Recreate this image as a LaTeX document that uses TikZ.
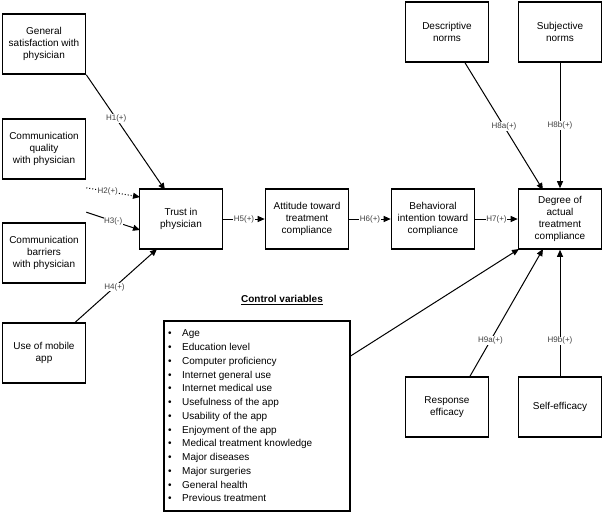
\documentclass[tikz,border=0pt]{standalone}
\usepackage{fontspec}
\setmainfont{Liberation Sans}
\usetikzlibrary{arrows.meta,positioning}
\tikzset{
  cbox/.style={draw,line width=1.6pt,minimum width=83pt,minimum height=60pt,align=center,font=\fontsize{10}{12}\selectfont,inner sep=1pt},
  hyp/.style={font=\fontsize{8}{9}\selectfont,text=black!75,fill=white,inner sep=0.5pt},
  link/.style={line width=1pt,-{Triangle[length=7pt,width=6pt]}}
}
\begin{document}
\begin{tikzpicture}[x=1pt,y=-1pt]
    \useasboundingbox (0,0) rectangle (604,512);
    \node[cbox] (satisf) at (44,44) {General\\satisfaction with\\physician};
    \node[cbox] (quality) at (44,149) {Communication\\quality\\with physician};
    \node[cbox] (barrier) at (44,253) {Communication\\barriers\\with physician};
    \node[cbox] (mobile) at (44,353) {Use of mobile\\app};

    \node[cbox] (trust) at (181,219) {Trust in\\physician};
    \node[cbox] (attitude) at (307,219) {Attitude toward\\treatment\\compliance};
    \node[cbox] (intent) at (433,219) {Behavioral\\intention toward\\compliance};
    \node[cbox] (degree) at (560,219) {Degree of\\actual\\treatment\\compliance};

    \node[cbox] (descnorm) at (447,32) {Descriptive\\norms};
    \node[cbox] (subjnorm) at (560,32) {Subjective\\norms};
    \node[cbox] (response) at (447,407) {Response\\efficacy};
    \node[cbox] (selfeff) at (560,407) {Self-efficacy};

    % control variables
    \node[font=\fontsize{10}{12}\selectfont\bfseries] (ctrltitle) at (282,300) {\underline{Control variables}};
    \node[draw,line width=1.6pt,minimum width=186pt,minimum height=190pt,anchor=north west,inner sep=0pt] (control) at (163,320) {};
    \node[anchor=north west,align=left,font=\fontsize{10}{13.75}\selectfont,inner sep=0pt] (ctrllist) at (168,327) {%
      \begin{tabular}{@{}p{14pt}@{}l@{}}
      \textbullet & Age\\ \textbullet & Education level\\ \textbullet & Computer proficiency\\
      \textbullet & Internet general use\\ \textbullet & Internet medical use\\
      \textbullet & Usefulness of the app\\ \textbullet & Usability of the app\\
      \textbullet & Enjoyment of the app\\ \textbullet & Medical treatment knowledge\\
      \textbullet & Major diseases\\ \textbullet & Major surgeries\\
      \textbullet & General health\\ \textbullet & Previous treatment
      \end{tabular}};

    \coordinate (t1) at (165,190);
    \coordinate (t2) at (140,197);
    \coordinate (t3) at (140,230);
    \coordinate (t4) at (157,249);
    \draw[link] (satisf.south east) -- node[hyp,pos=0.38] {H1(+)} (t1);
    \draw[link,dotted] ([yshift=-8pt]quality.south east) -- node[hyp,pos=0.4] {H2(+)} (t2);
    \draw[link] ([yshift=10pt]barrier.north east) -- node[hyp,pos=0.5] {H3(-)} (t3);
    \draw[link] ([xshift=-11pt]mobile.north east) -- node[hyp,pos=0.48] {H4(+)} (t4);

    \draw[link] (trust) -- node[hyp] {H5(+)} (attitude);
    \draw[link] (attitude) -- node[hyp] {H6(+)} (intent);
    \draw[link] (intent) -- node[hyp] {H7(+)} (degree);

    \coordinate (d1) at (543,190);
    \coordinate (d2) at (543,249);
    \coordinate (d3) at (519,249);
    \draw[link] ([xshift=18pt]descnorm.south) -- node[hyp,pos=0.5] {H8a(+)} (d1);
    \draw[link] (subjnorm) -- node[hyp,pos=0.5] {H8b(+)} (degree);
    \draw[link] ([xshift=23pt]response.north) -- node[hyp,pos=0.28] {H9a(+)} (d2);
    \draw[link] (selfeff) -- node[hyp,pos=0.28] {H9b(+)} (degree);
    \draw[link] ([yshift=-36pt]control.north east) -- (d3);
\end{tikzpicture}
\end{document}
